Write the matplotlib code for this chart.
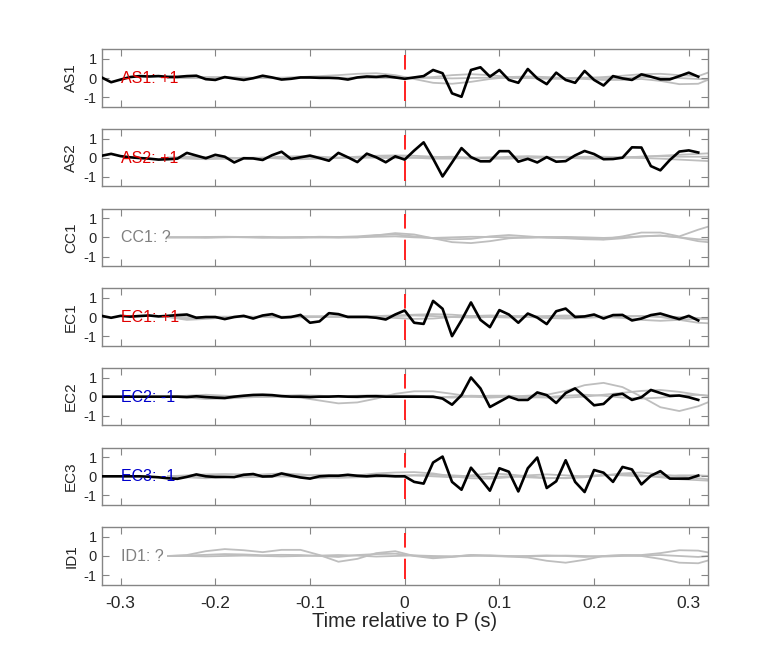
import numpy as np
import matplotlib
matplotlib.use("Agg")
from matplotlib import pyplot as plt
from matplotlib.ticker import FuncFormatter

plt.rcParams["font.family"] = ["Liberation Sans", "DejaVu Sans"]
plt.rcParams["axes.unicode_minus"] = False
plt.rcParams["lines.scale_dashes"] = False

stations = ["AS1", "AS2", "CC1", "EC1", "EC2", "EC3", "ID1"]
polarities = ["+1", "+1", "?", "+1", "-1", "-1", "?"]

# observed traces, sampled every 0.01 s from -0.32 to 0.31
t_obs = np.round(np.arange(-32, 32) * 0.01, 2)
# synthetic traces, sampled every 0.02 s from -0.25 to 0.33
t_syn = np.round(np.arange(-25, 34, 2) * 0.01, 2)

as1_obs = [0.03, -0.22, -0.08, 0.05, 0.10, 0.08, 0.10, 0.06, 0.06, 0.10, 0.12,
           -0.06, -0.10, 0.05, -0.03, -0.10, -0.01, 0.12, 0.03, -0.08, -0.04,
           0.03, 0.03, 0.01, 0.01, -0.01, -0.08, 0.03, 0.08, 0.06, 0.10, 0.03,
           -0.04,
           0.03, 0.10, 0.42, 0.25, -0.80, -0.98, 0.42, 0.56, 0.07, 0.42, -0.10,
           -0.25, 0.47, -0.02, -0.32, 0.28, -0.10, -0.25, 0.37, -0.10, -0.39,
           0.10, -0.02, -0.10, 0.19, 0.07, -0.07, -0.07, 0.10, 0.28, 0.07]
as2_obs = [0.10, 0.20, 0.08, 0.02, -0.02, -0.05, -0.10, -0.08, -0.05, 0.25, 0.11,
           -0.03, 0.15, 0.05, -0.25, -0.03, -0.04, -0.12, 0.13, 0.31, -0.07,
           0.02, 0.11, -0.02, -0.16, 0.25, 0.02, -0.23, 0.21, 0.02, -0.24,
           0.07, -0.10,
           0.37, 0.80, -0.05, -0.98, -0.25, 0.50, 0.03, -0.19, -0.19, 0.34, 0.34,
           -0.21, -0.06, -0.25, 0.03, -0.21, -0.18, 0.12, 0.35, 0.19, -0.08,
           -0.07, 0.00, 0.54, 0.53, -0.44, -0.66, -0.12, 0.32, 0.38, 0.27]
ec1_obs = [0.06, -0.04, 0.06, 0.02, 0.05, 0.08, 0.03, 0.06, 0.10, 0.13, -0.04,
           0.00, 0.00, -0.11, 0.00, 0.06, -0.08, 0.08, 0.15, -0.03, 0.00,
           0.11, -0.30, -0.23, 0.20, 0.15, 0.00, 0.00, 0.00, -0.04, -0.13,
           0.13, 0.34,
           -0.30, -0.36, 0.84, 0.43, -1.00, -0.17, 0.76, -0.15, -0.53, 0.36, 0.13,
           -0.30, 0.18, -0.03, -0.37, 0.30, 0.44, 0.00, 0.03, 0.13, -0.08,
           0.10, 0.11, -0.18, -0.08, 0.10, 0.18, 0.03, -0.11, 0.06, -0.18]
ec2_obs = [0.00, 0.00, 0.00, 0.00, 0.00, 0.00, 0.00, 0.00, 0.00, -0.02, 0.02,
           -0.02, -0.05, -0.07, 0.00, 0.05, 0.09, 0.10, 0.08, 0.03, 0.00,
           0.00, -0.02, 0.00, 0.00, 0.02, 0.00, 0.00, 0.02, 0.02, 0.00,
           0.00, 0.00,
           0.00, 0.00, 0.00, -0.10, -0.42, 0.08, 1.00, 0.43, -0.54, -0.27, 0.00,
           -0.17, -0.17, 0.22, 0.08, -0.33, 0.19, 0.43, 0.00, -0.45, -0.38,
           0.08, 0.15, -0.17, -0.03, 0.35, 0.19, 0.04, 0.06, -0.03, -0.17]
ec3_obs = [0.00, 0.00, 0.00, 0.00, 0.00, -0.02, -0.05, -0.10, -0.13, -0.03, 0.10,
           0.00, -0.03, -0.03, -0.04, 0.08, 0.12, -0.01, 0.00, 0.15, 0.04,
           -0.06, -0.12, 0.00, 0.03, 0.03, 0.08, 0.03, 0.00, 0.04, 0.03,
           0.00, 0.00,
           -0.29, -0.38, 0.72, 1.03, -0.29, -0.70, 0.45, -0.13, -0.75, 0.42, 0.24,
           -0.79, 0.42, 0.98, -0.61, -0.26, 0.84, -0.29, -0.82, 0.33, 0.19,
           -0.29, 0.49, 0.36, -0.42, 0.03, 0.27, -0.12, -0.12, -0.12, 0.04]

as1_syn = [
    [0.0, 0.02, 0.05, 0.05, 0.03, 0.0, 0.0, 0.05, 0.1, 0.15, 0.22, 0.25, 0.15, -0.05, -0.25,
     -0.3, -0.2, -0.05, 0.05, 0.08, 0.05, 0.0, -0.05, -0.1, -0.1, -0.05, -0.15, -0.32, -0.3, 0.1],
    [0.0, 0.0, 0.02, 0.0, -0.02, 0.0, 0.02, 0.03, 0.0, 0.0, 0.03, 0.05, 0.05, 0.0, 0.05,
     0.15, 0.2, 0.15, 0.05, 0.0, -0.03, -0.05, 0.0, 0.05, 0.12, 0.2, 0.22, 0.15, 0.1, 0.45],
    [0.0, 0.0, 0.0, 0.02, 0.0, 0.0, -0.02, 0.0, 0.0, 0.02, 0.0, 0.0, 0.0, 0.02, 0.0,
     -0.02, 0.0, 0.02, 0.0, 0.0, -0.02, 0.0, 0.02, 0.0, 0.0, 0.05, 0.03, 0.0, -0.05, -0.1],
]
as2_syn = [
    [0.0, 0.05, 0.02, -0.05, -0.05, 0.0, 0.05, 0.08, 0.05, 0.0, 0.05, 0.1, 0.12, 0.1, 0.05,
     0.0, -0.05, -0.02, 0.05, 0.08, 0.05, 0.0, -0.05, -0.05, 0.0, 0.05, 0.1, 0.15, 0.2, 0.25],
    [0.0, -0.05, -0.08, -0.05, 0.0, 0.0, -0.05, -0.08, -0.05, 0.0, 0.0, 0.0, -0.03, 0.0, 0.03,
     0.05, 0.0, -0.05, -0.05, 0.0, 0.03, 0.05, 0.03, 0.0, 0.0, -0.02, -0.05, -0.1, -0.15, -0.2],
    [0.0, 0.0, 0.02, 0.0, -0.02, -0.03, 0.0, 0.02, 0.0, -0.02, 0.0, 0.05, 0.05, 0.0, -0.05,
     -0.05, 0.0, 0.02, 0.0, 0.0, 0.0, 0.02, 0.05, 0.05, 0.02, 0.05, 0.08, 0.05, 0.05, 0.05],
]
cc1_syn = [
    [0.0, 0.0, 0.02, 0.03, 0.02, 0.0, -0.02, 0.0, 0.03, 0.02, 0.0, 0.1, 0.22, 0.15, -0.05,
     -0.25, -0.3, -0.2, -0.05, 0.0, 0.02, 0.0, -0.05, -0.1, 0.05, 0.25, 0.25, 0.05, 0.4, 0.7],
    [0.0, 0.0, -0.02, 0.0, 0.02, 0.03, 0.0, -0.02, 0.0, 0.02, 0.05, 0.12, 0.15, 0.05, -0.05,
     -0.1, -0.08, 0.05, 0.12, 0.05, -0.02, -0.05, -0.1, -0.12, -0.05, 0.05, 0.1, 0.0, -0.2, -0.3],
    [0.0, 0.0, 0.0, 0.02, 0.0, -0.02, 0.0, 0.02, 0.0, -0.02, 0.0, 0.03, 0.05, 0.0, -0.03,
     0.0, 0.03, 0.02, 0.0, -0.02, 0.0, 0.02, 0.0, -0.03, 0.0, 0.05, 0.08, 0.0, -0.1, -0.15],
]
ec1_syn = [
    [0.0, -0.1, -0.05, 0.0, 0.03, 0.0, -0.03, 0.0, 0.03, 0.05, 0.05, 0.05, 0.08, 0.12, 0.15,
     0.12, 0.05, 0.0, -0.03, 0.0, 0.05, 0.08, 0.05, 0.0, 0.0, 0.05, 0.0, -0.15, -0.3, -0.35],
    [0.0, -0.15, -0.1, -0.03, 0.0, 0.02, 0.0, -0.02, 0.0, 0.0, 0.02, 0.0, -0.05, -0.1, -0.08,
     0.0, 0.05, 0.08, 0.05, 0.0, -0.05, -0.08, -0.05, 0.0, -0.05, -0.15, -0.2, -0.15, -0.1, -0.1],
    [0.0, 0.0, 0.0, 0.02, 0.0, 0.0, 0.02, 0.05, 0.03, 0.0, 0.0, 0.02, 0.05, 0.08, 0.05,
     0.0, -0.03, 0.0, 0.05, 0.05, 0.02, 0.0, 0.0, 0.03, 0.05, 0.05, 0.03, 0.0, -0.05, -0.1],
]
ec2_syn = [
    [0.0, 0.05, 0.1, 0.05, 0.0, -0.02, 0.0, -0.05, -0.2, -0.35, -0.3, -0.1, 0.15, 0.28, 0.28,
     0.15, 0.0, -0.05, 0.0, 0.05, 0.1, 0.3, 0.6, 0.72, 0.5, 0.0, -0.55, -0.75, -0.5, -0.1],
    [0.0, -0.05, -0.12, -0.1, -0.05, 0.0, 0.05, 0.08, 0.05, 0.0, -0.05, 0.0, 0.05, 0.05, 0.0,
     -0.05, 0.0, 0.05, 0.05, 0.0, -0.05, -0.05, 0.0, 0.1, 0.2, 0.3, 0.35, 0.25, 0.1, 0.0],
    [0.0, 0.02, 0.0, -0.03, 0.0, 0.03, 0.0, -0.03, 0.0, 0.02, 0.05, 0.08, 0.05, 0.0, -0.05,
     0.0, 0.05, 0.03, 0.0, -0.05, -0.02, 0.05, 0.1, 0.05, -0.05, -0.1, -0.05, 0.05, 0.1, 0.0],
]
ec3_syn = [
    [0.0, 0.05, 0.1, 0.12, 0.1, 0.05, 0.0, -0.05, -0.1, -0.05, 0.05, 0.15, 0.2, 0.22, 0.15,
     0.0, -0.1, -0.12, -0.05, 0.05, 0.1, 0.05, 0.0, 0.05, 0.15, 0.2, 0.1, 0.0, -0.1, -0.2],
    [0.0, -0.05, -0.1, -0.05, 0.0, 0.1, 0.15, 0.1, 0.0, -0.08, -0.05, 0.0, 0.05, 0.05, 0.0,
     -0.05, 0.05, 0.15, 0.1, 0.0, -0.08, -0.1, -0.05, 0.05, 0.1, 0.05, -0.05, -0.15, -0.2, -0.25],
    [0.0, 0.02, 0.0, -0.03, -0.05, -0.03, 0.0, 0.05, 0.08, 0.05, 0.0, -0.03, 0.0, 0.05, 0.08,
     0.05, 0.0, -0.03, 0.0, -0.05, -0.1, -0.08, 0.0, 0.08, 0.05, 0.0, 0.0, 0.05, 0.05, 0.0],
]
id1_syn = [
    [0.0, 0.05, 0.25, 0.36, 0.3, 0.2, 0.32, 0.32, 0.05, -0.3, -0.15, 0.15, 0.25, 0.0, -0.12,
     -0.05, 0.05, 0.0, -0.03, -0.08, -0.25, -0.35, -0.2, 0.0, 0.05, 0.05, 0.15, 0.3, 0.28, 0.1],
    [0.0, 0.02, 0.06, 0.1, 0.08, 0.04, 0.06, 0.05, 0.0, -0.05, 0.05, 0.1, 0.12, 0.02, -0.05,
     -0.03, 0.05, 0.02, -0.02, 0.0, 0.03, 0.0, -0.05, 0.0, 0.03, 0.0, -0.15, -0.35, -0.38, -0.1],
    [0.0, 0.0, -0.02, 0.0, 0.02, 0.0, -0.02, 0.0, 0.02, 0.05, 0.02, -0.03, 0.0, 0.03, 0.0,
     -0.02, 0.0, 0.03, 0.0, -0.02, 0.0, 0.02, 0.0, -0.03, 0.0, 0.02, 0.05, 0.0, -0.05, 0.05],
]

observed = [as1_obs, as2_obs, None, ec1_obs, ec2_obs, ec3_obs, None]
synthetics = [as1_syn, as2_syn, cc1_syn, ec1_syn, ec2_syn, ec3_syn, id1_syn]

polarity_colors = {"+1": "#e00000", "-1": "#0000cc", "?": "#808080"}
frame_color = "#858585"
text_color = "#262626"

fig = plt.figure(figsize=(7.82, 6.57), dpi=100)
n = len(stations)
height = 0.0875
step = 0.12125

for i, station in enumerate(stations):
    ax = fig.add_axes([0.13, 0.11 + (n - 1 - i) * step, 0.775, height])

    for syn in synthetics[i]:
        ax.plot(t_syn, syn, color="#bebebe", lw=1.3, zorder=1)

    # P arrival marker
    ax.plot([0, 0], [1.2, -1.2], color="#ff2020", lw=1.4,
            linestyle=(0, (10.5, 8.0, 40, 4)), zorder=2)

    if observed[i] is not None:
        ax.plot(t_obs, observed[i], color="black", lw=1.9, zorder=3)

    ax.text(-0.3, -0.02, f"{station}: {polarities[i]}",
            color=polarity_colors[polarities[i]],
            fontsize=11.5, ha="left", va="center", zorder=5)

    ax.set_xlim(-0.32, 0.32)
    ax.set_ylim(-1.5, 1.5)
    ax.set_yticks([-1, 0, 1])
    ax.set_xticks([-0.3, -0.2, -0.1, 0, 0.1, 0.2, 0.3])
    ax.xaxis.set_major_formatter(FuncFormatter(lambda v, p: f"{v:g}"))
    ax.yaxis.set_major_formatter(FuncFormatter(lambda v, p: f"{v:g}"))
    ax.tick_params(direction="in", top=True, right=True, length=5, width=0.8,
                   color=frame_color, labelsize=10.5, labelcolor=text_color)
    for spine in ax.spines.values():
        spine.set_color(frame_color)
        spine.set_linewidth(1.0)
    ax.set_ylabel(station, fontsize=11, color=text_color)
    if i < n - 1:
        ax.tick_params(labelbottom=False)
    else:
        ax.tick_params(axis="x", labelsize=12.5, pad=8)
        ax.set_xlabel("Time relative to P (s)", fontsize=14.5, color=text_color,
                      labelpad=1)

fig.savefig("out.png", dpi=100)
